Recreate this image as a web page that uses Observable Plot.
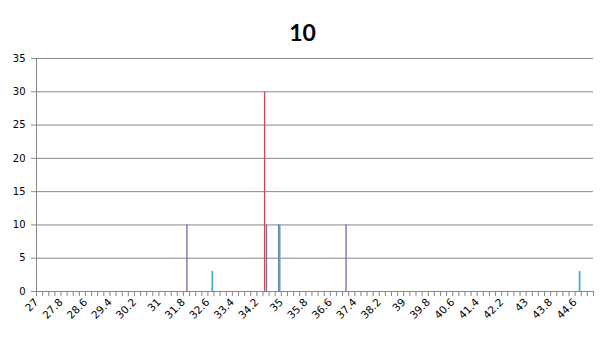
<!DOCTYPE html>
<html>
<head>
<meta charset="utf-8">
<script src="https://cdn.jsdelivr.net/npm/d3@7"></script>
<script src="https://cdn.jsdelivr.net/npm/@observablehq/plot@0.6"></script>
<style>
  html, body { margin: 0; padding: 0; background: #fff; }
  #title { box-sizing: border-box; width: 605px; height: 45px; padding-top: 18px; line-height: 23px;
           font: bold 23px Lato, "DejaVu Sans", sans-serif; text-align: center; color: #000; }
  #chart svg { display: block; }
</style>
</head>
<body>
<div id="title">10</div>
<div id="chart"></div>
<script>
// Category axis: 27 to 45 in steps of 0.2
const categories = d3.range(91).map(i => +(27 + i * 0.2).toFixed(1));
// Labelled categories (every 4th)
const tickLabels = [27, 27.8, 28.6, 29.4, 30.2, 31, 31.8, 32.6, 33.4, 34.2, 35, 35.8, 36.6, 37.4,
                    38.2, 39, 39.8, 40.6, 41.4, 42.2, 43, 43.8, 44.6];
const yTicks = [0, 5, 10, 15, 20, 25, 30, 35];

// Series (Excel clustered columns, 5 series; only three have non-zero values)
const seriesNames = ["S1", "S2", "S3", "S4", "S5"];
const seriesColors = ["#4f81bd", "#c0504d", "#9bbb59", "#8064a2", "#4bacc6"];
const s2Cats = [34.4];
const s2Vals = [30];
const s4Cats = [31.8, 34.4, 34.8, 37];
const s4Vals = [10, 10, 10, 10];
const s5Cats = [32.6, 34.8, 44.6];
const s5Vals = [3, 10, 3];

const seriesData = [
  {k: 1, cats: s2Cats, vals: s2Vals, w: 1.3},
  {k: 3, cats: s4Cats, vals: s4Vals, w: 1.3},
  {k: 4, cats: s5Cats, vals: s5Vals, w: 1.8}
];

const W = 605, H = 295, mL = 36, mR = 12, mT = 13, mB = 49;
const bw = (W - mL - mR) / categories.length;
const slot = bw / (seriesNames.length + 1.5);
const gray = "#868686";

const barMarks = seriesData.map(s => {
  const rows = s.cats.map((c, i) => ({cat: c, value: s.vals[i], series: seriesNames[s.k]}));
  const center = bw / 2 + (s.k - (seriesNames.length - 1) / 2) * slot;
  const insetLeft = center - s.w / 2;
  const insetRight = bw - insetLeft - s.w;
  return Plot.barY(rows, {x: "cat", y: "value", fill: seriesColors[s.k], insetLeft, insetRight});
});

const chart = Plot.plot({
  width: W, height: H,
  marginLeft: mL, marginRight: mR, marginTop: mT, marginBottom: mB,
  style: {fontFamily: "DejaVu Sans", fontSize: "10px", color: "#000", background: "#fff"},
  x: {type: "band", domain: categories, padding: 0, round: false, align: 0.5},
  y: {domain: [0, 35]},
  marks: [
    Plot.ruleY(yTicks, {stroke: gray, strokeWidth: 1}),
    Plot.frame({anchor: "left", stroke: gray}),
    ...barMarks,
    Plot.axisY(yTicks, {tickSize: 5, tickPadding: 6, stroke: gray, fill: "#000", fontSize: 10, label: null}),
    Plot.axisX(categories, {tickSize: 5, stroke: gray, tickFormat: () => "", dx: bw / 2, label: null}),
    Plot.axisX([categories[0]], {tickSize: 5, stroke: gray, tickFormat: () => "", dx: -bw / 2, label: null}),
    Plot.axisX(tickLabels, {tickSize: 0, tickPadding: 9, tickRotate: -45, dx: -3, fill: "#000", fontSize: 10.5, label: null})
  ]
});
document.getElementById("chart").appendChild(chart);
</script>
</body>
</html>
